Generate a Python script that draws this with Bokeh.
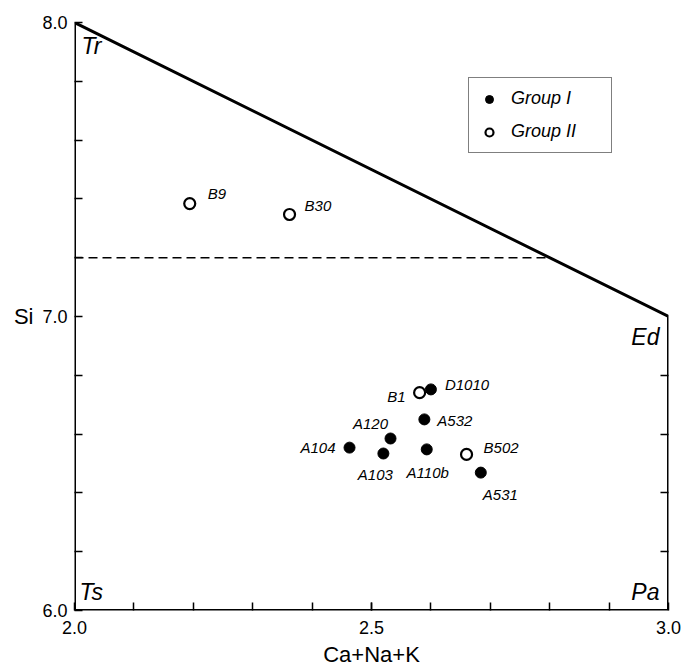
from bokeh.plotting import figure
from bokeh.models import (ColumnDataSource, FixedTicker, LinearAxis, Label, Range1d,
                          PrintfTickFormatter)
from bokeh.embed import file_html
from bokeh.resources import INLINE

# ---- data ----
group1_names = ["D1010", "A532", "A120", "A104", "A103", "A110b", "A531"]
group1_x = [2.600, 2.589, 2.532, 2.463, 2.520, 2.593, 2.684]
group1_y = [6.752, 6.650, 6.585, 6.554, 6.534, 6.548, 6.469]

group2_names = ["B9", "B30", "B1", "B502"]
group2_x = [2.194, 2.362, 2.581, 2.660]
group2_y = [7.384, 7.347, 6.741, 6.531]

# field boundary corners (Tr, Ed, Pa, Ts)
corner_names = ["Tr", "Ed", "Pa", "Ts"]
corner_x = [2.0, 3.0, 3.0, 2.0]
corner_y = [8.0, 7.0, 6.0, 6.0]
divider_si = 7.2

x_tick_labels = [2.0, 2.5, 3.0]
y_tick_labels = [6.0, 7.0, 8.0]

# ---- label placement (screen offsets, styling only) ----
g1_dx = [14, 13, -20, -14, -8, 1, 2]
g1_dy = [-5, 1, -15, 0, 21, 23, 22]
g1_align = ["left", "left", "center", "right", "center", "center", "left"]
g2_dx = [18, 15, -14, 17]
g2_dy = [-10, -9, 4, -7]
g2_align = ["left", "left", "right", "left"]

FONT = "Liberation Sans"

p = figure(width=683, height=670, output_backend="svg", toolbar_location=None,
           x_range=Range1d(2.0, 3.0), y_range=Range1d(6.0, 8.0),
           min_border_left=74, min_border_right=15, min_border_top=22, min_border_bottom=60)
p.outline_line_color = None
p.xgrid.visible = False
p.ygrid.visible = False
p.background_fill_color = "white"
p.border_fill_color = "white"

# axes
xa = p.xaxis[0]
xa.ticker = FixedTicker(ticks=x_tick_labels,
                        minor_ticks=[round(2.0 + 0.1 * i, 1) for i in range(1, 10)])
xa.formatter = PrintfTickFormatter(format="%.1f")
xa.axis_line_color = None
xa.major_tick_in = 8
xa.major_tick_out = 0
xa.minor_tick_in = 8
xa.minor_tick_out = 0
xa.major_tick_line_width = 1.5
xa.minor_tick_line_width = 1.5
xa.major_label_standoff = 10
xa.major_label_text_font = FONT
xa.major_label_text_font_size = "18px"
xa.major_label_text_color = "black"
xa.axis_label = "Ca+Na+K"
xa.axis_label_text_font = FONT
xa.axis_label_text_font_style = "normal"
xa.axis_label_text_font_size = "22px"
xa.axis_label_text_color = "black"
xa.axis_label_standoff = 5

ya = p.yaxis[0]
ya.ticker = FixedTicker(ticks=y_tick_labels,
                        minor_ticks=[round(6.0 + 0.2 * i, 1) for i in range(1, 10) if i != 5])
ya.formatter = PrintfTickFormatter(format="%.1f")
ya.axis_line_color = None
ya.major_tick_in = 8
ya.major_tick_out = 0
ya.minor_tick_in = 8
ya.minor_tick_out = 0
ya.major_tick_line_width = 1.5
ya.minor_tick_line_width = 1.5
ya.major_label_standoff = 7
ya.major_label_text_font = FONT
ya.major_label_text_font_size = "18px"
ya.major_label_text_color = "black"
ya.axis_label = "Si"
ya.axis_label_orientation = "horizontal"
ya.axis_label_text_font = FONT
ya.axis_label_text_font_style = "normal"
ya.axis_label_text_font_size = "22px"
ya.axis_label_text_color = "black"
ya.axis_label_standoff = 6

right_ticks = [6.2, 6.4, 6.6, 6.8]
ra = LinearAxis(ticker=FixedTicker(ticks=right_ticks, minor_ticks=[]),
                major_label_overrides={t: "" for t in right_ticks})
ra.axis_line_color = None
ra.major_tick_in = 8
ra.major_tick_out = 0
ra.major_tick_line_width = 1.5
ra.major_label_standoff = 0
p.add_layout(ra, "right")

# boundary
p.line(corner_x + corner_x[:1], corner_y + corner_y[:1], line_color="black", line_width=3)
# dashed divider to the Tr-Ed edge
slope = (corner_y[1] - corner_y[0]) / (corner_x[1] - corner_x[0])
x_end = corner_x[0] + (divider_si - corner_y[0]) / slope
p.line([corner_x[0], x_end], [divider_si, divider_si], line_color="black",
       line_width=1.5, line_dash="9 5")

# points
s1 = ColumnDataSource(dict(x=group1_x, y=group1_y, name=group1_names,
                           dx=g1_dx, dy=g1_dy, align=g1_align))
s2 = ColumnDataSource(dict(x=group2_x, y=group2_y, name=group2_names,
                           dx=g2_dx, dy=g2_dy, align=g2_align))
p.scatter("x", "y", source=s1, size=11, marker="circle", fill_color="black",
          line_color="black", legend_label="Group I")
p.scatter("x", "y", source=s2, size=11, marker="circle", fill_color="white",
          line_color="black", line_width=2.2, legend_label="Group II")

for s in (s1, s2):
    p.text("x", "y", text="name", source=s, x_offset="dx", y_offset="dy",
           text_align="align", text_baseline="middle", text_font_size="15px",
           text_font_style="italic", text_color="black")

# corner labels
corner_opts = [(7, -10, "left", "top"), (-9, -7, "right", "top"),
               (-9, 6, "right", "bottom"), (5, 6, "left", "bottom")]
for nm, cx, cy, (ox, oy, al, bl) in zip(corner_names, corner_x, corner_y, corner_opts):
    p.add_layout(Label(x=cx, y=cy, text=nm, x_offset=ox, y_offset=oy,
                       text_align=al, text_baseline=bl, text_font_size="23px",
                       text_font_style="italic", text_color="black"))

lg = p.legend[0]
lg.location = (394, 457)
lg.border_line_color = "black"
lg.border_line_width = 1.5
lg.label_text_font_style = "italic"
lg.label_text_font_size = "18px"
lg.label_text_color = "black"
lg.label_standoff = 12
lg.padding = 10
lg.spacing = 12
lg.margin = 0
lg.glyph_width = 20
lg.glyph_height = 20
lg.label_height = 20
lg.label_width = 90
lg.background_fill_alpha = 1

open("out.html", "w").write(file_html(p, INLINE))
